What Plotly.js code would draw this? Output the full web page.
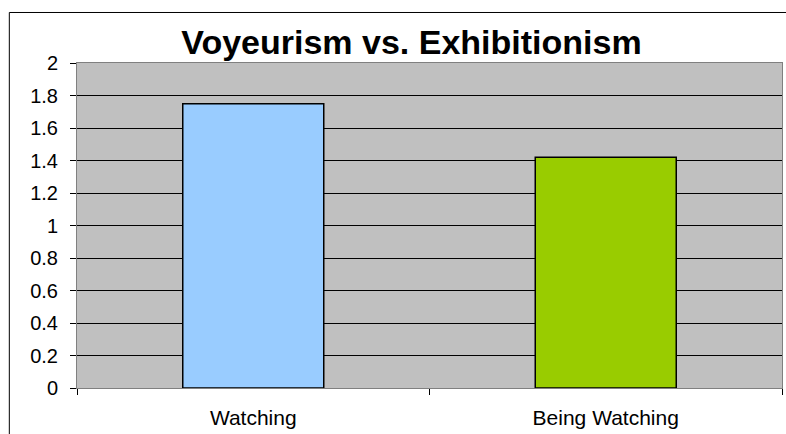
<!DOCTYPE html>
<html>
<head>
<meta charset="utf-8">
<script src="https://cdn.plot.ly/plotly-3.0.1.min.js"></script>
<style>html,body{margin:0;padding:0;background:#fff;}#chart{width:786px;height:434px;}</style>
</head>
<body>
<div id="chart"></div>
<script>
const categories = ['Watching', 'Being Watching'];
const values = [1.75, 1.42];
const barColors = ['#99CCFF', '#99CC00'];
const yTickVals = [0, 0.2, 0.4, 0.6, 0.8, 1, 1.2, 1.4, 1.6, 1.8, 2];
const yTickText = ['0', '0.2', '0.4', '0.6', '0.8', '1', '1.2', '1.4', '1.6', '1.8', '2'];
const chartTitle = 'Voyeurism vs. Exhibitionism';

const trace = {
  type: 'bar',
  x: categories,
  y: values,
  marker: { color: barColors, line: { color: '#000000', width: 1.5 } },
  hoverinfo: 'none'
};

const layout = {
  width: 786,
  height: 434,
  margin: { l: 77, r: 4, t: 63, b: 46 },
  paper_bgcolor: '#ffffff',
  plot_bgcolor: '#C0C0C0',
  font: { family: 'Arial, "Liberation Sans", sans-serif', color: '#000000', size: 20 },
  title: {
    text: '<b>' + chartTitle + '</b>',
    font: { size: 34, color: '#000000', family: 'Arial, "Liberation Sans", sans-serif' },
    xref: 'container', yref: 'container',
    x: 0.5235, xanchor: 'center',
    y: 0.902, yanchor: 'middle'
  },
  bargap: 0.6,
  showlegend: false,
  xaxis: {
    type: 'category',
    showgrid: false,
    showline: true, linecolor: '#808080', linewidth: 1, mirror: true,
    ticks: 'outside', tickson: 'boundaries', ticklen: 6, tickcolor: '#000000',
    ticklabelstandoff: 11,
    tickfont: { size: 21 },
    fixedrange: true
  },
  yaxis: {
    range: [0, 2],
    tickvals: yTickVals,
    ticktext: yTickText,
    showgrid: true, gridcolor: '#000000', gridwidth: 1,
    zeroline: false,
    showline: true, linecolor: '#808080', linewidth: 1, mirror: true,
    ticks: 'outside', ticklen: 6, tickcolor: '#000000',
    ticklabelstandoff: 8,
    tickfont: { size: 20 },
    fixedrange: true
  },
  shapes: [
    {
      type: 'rect', xref: 'paper', yref: 'paper',
      x0: -0.096, x1: 1.3, y0: -0.6, y1: 1.1554,
      line: { color: '#000000', width: 1 }, fillcolor: 'rgba(0,0,0,0)', layer: 'below'
    }
  ]
};

Plotly.newPlot('chart', [trace], layout, { displayModeBar: false, staticPlot: true });
</script>
</body>
</html>
